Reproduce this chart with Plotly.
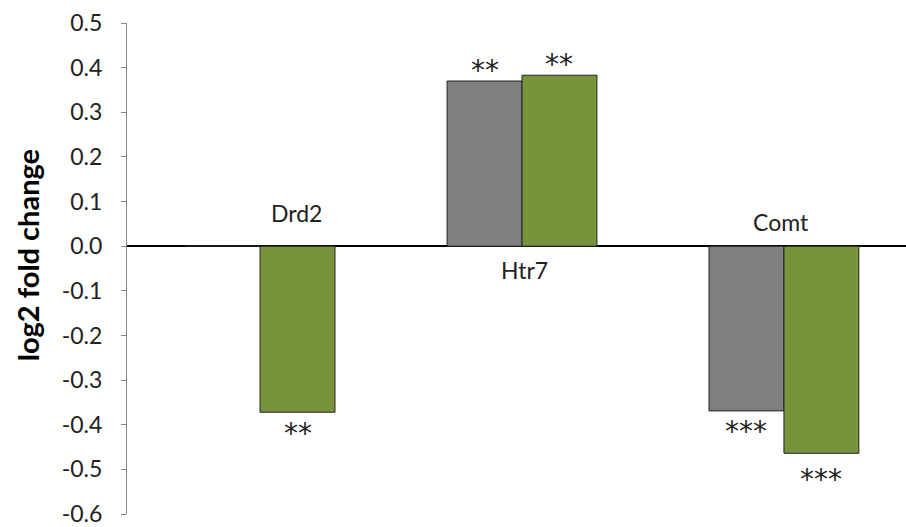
import plotly.graph_objects as go

genes = ["Drd2", "Htr7", "Comt"]
gray_vals = [0.0, 0.370, -0.369]
green_vals = [-0.372, 0.383, -0.464]
gray_sig = ["", "**", "***"]
green_sig = ["**", "**", "***"]
ytick_vals = [0.5, 0.4, 0.3, 0.2, 0.1, 0.0, -0.1, -0.2, -0.3, -0.4, -0.5, -0.6]
ytick_text = ["0.5", "0.4", "0.3", "0.2", "0.1", "0.0", "-0.1", "-0.2", "-0.3", "-0.4", "-0.5", "-0.6"]
y_title = "log2 fold change"

# label placement (category offset, y value) and asterisk pixel shifts
gene_label_pos = [(0.14, 0.074), (0.01, -0.054), (-0.01, 0.054)]
gray_shift = [0, 11, -21]
green_shift = [-21, 11, -26]

FONT = "Lato, Open Sans, sans-serif"
x = list(range(len(genes)))
W = 0.286

fig = go.Figure()
fig.add_trace(go.Bar(x=x, y=gray_vals, width=W, offset=-W,
                     marker=dict(color="#7f7f7f", line=dict(color="#222222", width=1)),
                     showlegend=False, hoverinfo="skip"))
fig.add_trace(go.Bar(x=x, y=green_vals, width=W, offset=0,
                     marker=dict(color="#77933c", line=dict(color="#222222", width=1)),
                     showlegend=False, hoverinfo="skip"))

ann = []
for i, g in enumerate(genes):
    dx, yy = gene_label_pos[i]
    ann.append(dict(x=i + dx, y=yy, xref="x", yref="y", text=g, showarrow=False,
                    font=dict(family=FONT, size=23, color="#222222")))
    for val, sig, off, sh in ((gray_vals[i], gray_sig[i], -W / 2, gray_shift[i]),
                              (green_vals[i], green_sig[i], W / 2, green_shift[i])):
        if not sig:
            continue
        ann.append(dict(x=i + off, y=val, xref="x", yref="y", text=sig, showarrow=False,
                        yanchor="middle", yshift=sh,
                        font=dict(family="DejaVu Sans", size=28, color="#222222")))

ann.append(dict(x=-0.1284, y=0.527, xref="paper", yref="paper", text="<b>" + y_title + "</b>",
                textangle=-90, showarrow=False, xanchor="center", yanchor="middle",
                font=dict(family=FONT, size=29, color="black")))

fig.update_layout(
    width=906, height=527,
    margin=dict(l=127, r=0, t=23, b=11),
    paper_bgcolor="white", plot_bgcolor="white",
    barmode="overlay",
    annotations=ann,
    xaxis=dict(range=[-0.508, 2.466], showticklabels=False, showgrid=False,
               zeroline=False, showline=False, ticks=""),
    yaxis=dict(range=[-0.6, 0.5], tickvals=ytick_vals, ticktext=ytick_text,
               showgrid=False, showline=True, linecolor="#868686", linewidth=1,
               ticks="outside", ticklen=5, tickcolor="#868686",
               ticklabelstandoff=14, ticklabeloverflow="allow",
               zeroline=True, zerolinecolor="black", zerolinewidth=2,
               tickfont=dict(family=FONT, size=23, color="#222222")),
)

fig.write_html("out.html", config={"displayModeBar": False},
               post_script="document.body.style.margin='0';document.body.style.overflow='hidden';")
